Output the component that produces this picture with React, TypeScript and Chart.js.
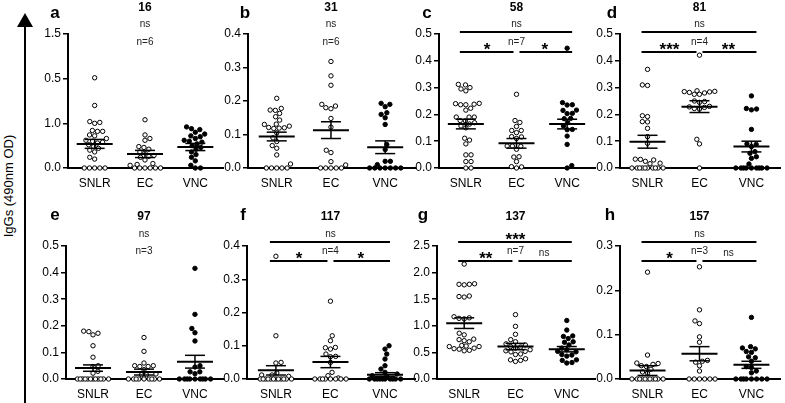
import React, { useEffect, useRef } from "react";
import { Chart, registerables } from "chart.js";
Chart.register(...registerables);

// ---------------- DATA ----------------
const categories = ["SNLR", "EC", "VNC"];
const panelLetters = ["a", "b", "c", "d", "e", "f", "g", "h"];
const panelTitles = ["16", "31", "58", "81", "97", "117", "137", "157"];
const yMaxes = [1.5, 0.4, 0.5, 0.5, 0.5, 0.4, 2.5, 0.3];
const yStepSizes = [0.5, 0.1, 0.1, 0.1, 0.1, 0.1, 0.5, 0.1];
const aTickLabels = ["0.0", "1.0", "0.5", "1.5"];
const nLabels = ["n=6", "n=6", "n=7", "n=4", "n=3", "n=4", "n=7", "n=3"];
const sigOverall = ["ns", "ns", "ns", "ns", "ns", "ns", "***", "ns"];
const sigSNLRvsEC = ["", "", "*", "***", "", "*", "**", "*"];
const sigECvsVNC = ["", "", "*", "**", "", "*", "ns", "ns"];

const a_SNLR = [1.01, 0.7, 0.52, 0.51, 0.5, 0.42, 0.41, 0.41, 0.37, 0.36, 0.33, 0.31, 0.3, 0.29, 0.28, 0.26, 0.24, 0.22, 0.2, 0.18, 0.12, 0.1, 0, 0, 0, 0, 0];
const a_EC = [0.54, 0.37, 0.33, 0.31, 0.24, 0.23, 0.21, 0.18, 0.17, 0.14, 0.13, 0.12, 0.09, 0.05, 0.04, 0.03, 0, 0, 0, 0, 0, 0];
const a_VNC = [0.46, 0.44, 0.43, 0.4, 0.38, 0.36, 0.35, 0.33, 0.31, 0.3, 0.29, 0.27, 0.25, 0.23, 0.21, 0.18, 0.15, 0.12, 0.08, 0.03, 0, 0];
const a_mean = [0.27, 0.157, 0.235];
const a_sem = [0.05, 0.04, 0.04];

const b_SNLR = [0.208, 0.178, 0.173, 0.172, 0.163, 0.153, 0.143, 0.131, 0.13, 0.125, 0.121, 0.12, 0.119, 0.118, 0.105, 0.09, 0.079, 0.067, 0.059, 0.039, 0.012, 0, 0, 0, 0, 0];
const b_EC = [0.318, 0.275, 0.247, 0.19, 0.185, 0.18, 0.177, 0.148, 0.122, 0.053, 0.046, 0.019, 0.009, 0, 0, 0, 0, 0];
const b_VNC = [0.193, 0.19, 0.183, 0.165, 0.16, 0.15, 0.13, 0.07, 0.055, 0.02, 0.02, 0.01, 0, 0, 0, 0, 0, 0, 0];
const b_mean = [0.094, 0.113, 0.062];
const b_sem = [0.013, 0.025, 0.019];

const c_SNLR = [0.312, 0.31, 0.3, 0.295, 0.288, 0.241, 0.24, 0.238, 0.236, 0.236, 0.223, 0.216, 0.19, 0.19, 0.19, 0.177, 0.176, 0.169, 0.164, 0.157, 0.15, 0.111, 0.104, 0.09, 0.049, 0.049, 0.024, 0.024, 0, 0];
const c_EC = [0.275, 0.177, 0.17, 0.155, 0.14, 0.14, 0.132, 0.117, 0.116, 0.11, 0.082, 0.082, 0.081, 0.07, 0.042, 0.041, 0.024, 0.005, 0.004, 0];
const c_VNC = [0.447, 0.244, 0.236, 0.235, 0.216, 0.215, 0.204, 0.203, 0.185, 0.184, 0.169, 0.157, 0.144, 0.143, 0.119, 0.088, 0.009, 0];
const c_mean = [0.164, 0.092, 0.164];
const c_sem = [0.018, 0.018, 0.018];

const d_SNLR = [0.368, 0.31, 0.308, 0.195, 0.192, 0.173, 0.172, 0.148, 0.117, 0.092, 0.033, 0.032, 0.03, 0.025, 0.018, 0.016, 0, 0, 0, 0, 0, 0, 0, 0, 0, 0];
const d_EC = [0.421, 0.288, 0.286, 0.285, 0.284, 0.282, 0.28, 0.275, 0.275, 0.25, 0.248, 0.245, 0.23, 0.228, 0.226, 0.222, 0.22, 0.107, 0.09, 0];
const d_VNC = [0.269, 0.222, 0.22, 0.217, 0.144, 0.09, 0.088, 0.08, 0.061, 0.055, 0.042, 0.036, 0.015, 0, 0, 0, 0, 0, 0, 0, 0, 0];
const d_mean = [0.098, 0.229, 0.08];
const d_sem = [0.024, 0.022, 0.02];

const e_SNLR = [0.18, 0.178, 0.172, 0.166, 0.125, 0.082, 0.05, 0.047, 0.029, 0.022, 0, 0, 0, 0, 0, 0, 0, 0, 0, 0, 0, 0];
const e_EC = [0.156, 0.104, 0.06, 0.05, 0.05, 0.047, 0.047, 0.035, 0.019, 0.016, 0.016, 0, 0, 0, 0, 0, 0, 0, 0, 0];
const e_VNC = [0.416, 0.243, 0.19, 0.174, 0.143, 0.05, 0.045, 0.027, 0.027, 0.02, 0, 0, 0, 0, 0, 0, 0, 0, 0];
const e_mean = [0.041, 0.026, 0.065];
const e_sem = [0.012, 0.011, 0.024];

const f_SNLR = [0.369, 0.13, 0.05, 0.048, 0.018, 0.012, 0.012, 0.008, 0, 0, 0, 0, 0, 0, 0, 0, 0, 0, 0, 0];
const f_EC = [0.234, 0.13, 0.115, 0.095, 0.094, 0.09, 0.075, 0.068, 0.067, 0.05, 0.02, 0.01, 0.003, 0, 0, 0, 0, 0, 0, 0, 0];
const f_VNC = [0.1, 0.09, 0.075, 0.06, 0.04, 0.03, 0.02, 0.015, 0.01, 0.005, 0, 0, 0, 0, 0, 0, 0, 0, 0, 0];
const f_mean = [0.026, 0.051, 0.013];
const f_sem = [0.014, 0.017, 0.006];

const g_SNLR = [2.16, 1.79, 1.78, 1.78, 1.77, 1.56, 1.55, 1.54, 1.17, 1.15, 1.14, 1.13, 0.86, 0.83, 0.75, 0.74, 0.72, 0.7, 0.63, 0.62, 0.61, 0.61, 0.58, 0.57, 0.56, 0.54, 0.53];
const g_EC = [1.21, 0.99, 0.84, 0.74, 0.7, 0.66, 0.64, 0.61, 0.6, 0.58, 0.55, 0.53, 0.52, 0.51, 0.47, 0.46, 0.38, 0.36, 0.35, 0.33];
const g_VNC = [1.1, 0.92, 0.81, 0.8, 0.76, 0.7, 0.69, 0.64, 0.58, 0.55, 0.52, 0.51, 0.46, 0.45, 0.43, 0.36, 0.35, 0.31, 0.3];
const g_mean = [1.05, 0.61, 0.56];
const g_sem = [0.1, 0.06, 0.05];

const h_SNLR = [0.241, 0.054, 0.036, 0.035, 0.033, 0.03, 0.028, 0.022, 0.016, 0.013, 0, 0, 0, 0, 0, 0, 0, 0, 0, 0, 0];
const h_EC = [0.253, 0.156, 0.131, 0.125, 0.095, 0.083, 0.042, 0.04, 0.038, 0.03, 0.018, 0, 0, 0, 0, 0, 0];
const h_VNC = [0.139, 0.073, 0.07, 0.068, 0.062, 0.06, 0.05, 0.048, 0.04, 0.028, 0.026, 0.018, 0.014, 0, 0, 0, 0, 0, 0, 0, 0];
const h_mean = [0.019, 0.057, 0.032];
const h_sem = [0.011, 0.016, 0.008];

const panelValues = [
  [a_SNLR, a_EC, a_VNC], [b_SNLR, b_EC, b_VNC], [c_SNLR, c_EC, c_VNC], [d_SNLR, d_EC, d_VNC],
  [e_SNLR, e_EC, e_VNC], [f_SNLR, f_EC, f_VNC], [g_SNLR, g_EC, g_VNC], [h_SNLR, h_EC, h_VNC],
];
const panelMeans = [a_mean, b_mean, c_mean, d_mean, e_mean, f_mean, g_mean, h_mean];
const panelSems = [a_sem, b_sem, c_sem, d_sem, e_sem, f_sem, g_sem, h_sem];

// ---------------- LAYOUT ----------------
const FONT = '"Liberation Sans", Arial, sans-serif';
const CA_LEFT = [68, 248, 439, 620, 66, 247, 437, 620];
const CA_RIGHT = [226, 418, 598, 783, 226, 418, 598, 783];
const ROW_TOP = [34, 246];
const ROW_BOTTOM = [168, 379];
const PAD_TOP = [34, 44];
const Y_AXIS_W = 45;
const X_AXIS_H = 24;
const PAD_RIGHT = 2;
const X_MIN = 0.47;
const X_MAX = 3.55;
const LETTER_DX = [-13, -3, -12, -8, -11, -4, -14, -10];
const SWARM_HALF = 17;

function swarmOffsets(values: number[], pxPerY: number, d: number, maxHalf: number): number[] {
  const idx = values.map((_, i) => i).sort((i, j) => values[i] - values[j]);
  const placed: { x: number; y: number }[] = [];
  const out = new Array(values.length).fill(0);
  let flip = 1;
  for (const i of idx) {
    const y = values[i] * pxPerY;
    const intervals: [number, number][] = [];
    for (const p of placed) {
      const dy = Math.abs(p.y - y);
      if (dy < d) {
        const w = Math.sqrt(d * d - dy * dy);
        intervals.push([p.x - w, p.x + w]);
      }
    }
    const cands = [0];
    for (const [lo, hi] of intervals) cands.push(lo, hi);
    cands.sort((a, b) => Math.abs(a) - Math.abs(b) || (a - b) * flip);
    let chosen = NaN;
    for (const c of cands) {
      if (Math.abs(c) > maxHalf) break;
      if (intervals.every(([lo, hi]) => c <= lo + 1e-6 || c >= hi - 1e-6)) {
        chosen = c;
        break;
      }
    }
    if (isNaN(chosen)) {
      // no free slot within the allowed width: choose the least crowded position
      let best = 0;
      let bestD = -1;
      for (let s = -maxHalf; s <= maxHalf; s += 0.5) {
        let md = Infinity;
        for (const p of placed) {
          const dd = Math.hypot(p.x - s, p.y - y);
          if (dd < md) md = dd;
        }
        if (md > bestD + 1e-6 || (Math.abs(md - bestD) < 1e-6 && Math.abs(s) < Math.abs(best))) {
          bestD = md;
          best = s;
        }
      }
      chosen = best;
    }
    flip = -flip;
    placed.push({ x: chosen, y });
    out[i] = chosen;
  }
  return out;
}

function makeAnnotPlugin(idx: number) {
  const row = idx < 4 ? 0 : 1;
  return {
    id: "annot" + idx,
    afterDatasetsDraw(chart: any) {
      const ctx = chart.ctx as CanvasRenderingContext2D;
      const xs = chart.scales.x;
      const ys = chart.scales.y;
      const ca = chart.chartArea;
      const line = (x1: number, y1: number, x2: number, y2: number) => {
        ctx.beginPath();
        ctx.moveTo(x1, y1);
        ctx.lineTo(x2, y2);
        ctx.stroke();
      };
      ctx.save();
      ctx.strokeStyle = "#000";
      ctx.fillStyle = "#000";
      const means = panelMeans[idx];
      const sems = panelSems[idx];
      for (let g = 0; g < 3; g++) {
        const cx = xs.getPixelForValue(g + 1);
        const my = ys.getPixelForValue(means[g]);
        const hy = ys.getPixelForValue(means[g] + sems[g]);
        const ly = ys.getPixelForValue(Math.max(0, means[g] - sems[g]));
        ctx.lineWidth = 2;
        line(cx - 18, my, cx + 18, my);
        ctx.lineWidth = 1.5;
        line(cx - 10, hy, cx + 10, hy);
        line(cx - 10, ly, cx + 10, ly);
        line(cx, hy, cx, ly);
      }
      const x1 = xs.getPixelForValue(1);
      const x2 = xs.getPixelForValue(2);
      const x3 = xs.getPixelForValue(3);
      ctx.textAlign = "center";
      ctx.textBaseline = "middle";
      ctx.font = `bold 17px ${FONT}`;
      ctx.fillText(panelLetters[idx], ca.left + LETTER_DX[idx], ca.top + (row === 0 ? -21 : -31));
      ctx.font = `bold 12px ${FONT}`;
      ctx.fillText(panelTitles[idx], x2, ca.top + (row === 0 ? -26 : -29));

      const topY = ca.top + (row === 0 ? -2 : -4);
      const subY = ca.top + (row === 0 ? 18 : 15);
      const drawLabel = (txt: string, x: number, lineY: number) => {
        if (!txt) return;
        if (txt.includes("*")) {
          ctx.font = `bold 17px ${FONT}`;
          ctx.textBaseline = "alphabetic";
          ctx.fillStyle = "#000";
          ctx.fillText(txt, x, lineY + 3);
        } else {
          ctx.font = `10px ${FONT}`;
          ctx.textBaseline = "middle";
          ctx.fillStyle = "#222";
          ctx.fillText(txt, x, lineY - 8);
          ctx.fillStyle = "#000";
        }
      };
      const hasBrackets = sigSNLRvsEC[idx] !== "";
      if (hasBrackets) {
        ctx.lineWidth = 2;
        line(x1 - 6, topY, x3 + 5, topY);
        line(x1 - 6, subY, x2 - 3, subY);
        line(x2 + 3, subY, x3 + 5, subY);
        drawLabel(sigOverall[idx], (x1 + x3) / 2, topY);
        drawLabel(sigSNLRvsEC[idx], (x1 + x2) / 2 - 4, subY);
        drawLabel(sigECvsVNC[idx], (x2 + x3) / 2 + 3, subY);
      } else {
        drawLabel(sigOverall[idx], x2, topY);
      }
      ctx.font = `10px ${FONT}`;
      ctx.textBaseline = "middle";
      ctx.fillStyle = "#222";
      ctx.fillText(nLabels[idx], x2, subY - 10);
      ctx.restore();
    },
  };
}

function Panel({ idx }: { idx: number }) {
  const ref = useRef<HTMLCanvasElement | null>(null);
  const row = idx < 4 ? 0 : 1;
  const caL = CA_LEFT[idx];
  const caR = CA_RIGHT[idx];
  const caT = ROW_TOP[row];
  const caB = ROW_BOTTOM[row];
  const padTop = PAD_TOP[row];
  const left = caL - Y_AXIS_W;
  const top = caT - padTop;
  const width = caR + PAD_RIGHT - left;
  const height = caB + X_AXIS_H - top;

  useEffect(() => {
    if (!ref.current) return;
    const yMax = yMaxes[idx];
    const step = yStepSizes[idx];
    const pxPerY = (caB - caT) / yMax;
    const pxPerX = (caR - caL) / (X_MAX - X_MIN);
    const datasets = panelValues[idx].map((vals, gi) => {
      const offs = swarmOffsets(vals, pxPerY, 5.3, SWARM_HALF);
      return {
        label: categories[gi],
        data: vals.map((v, k) => ({ x: gi + 1 + offs[k] / pxPerX, y: v })),
        pointRadius: 2.2,
        pointBorderWidth: 1,
        borderColor: "#000",
        backgroundColor: gi === 2 ? "#000" : "#fff",
        pointBackgroundColor: gi === 2 ? "#000" : "#fff",
        pointBorderColor: "#000",
        clip: false as any,
      };
    });
    const nTicks = Math.round(yMax / step);
    const chart = new Chart(ref.current, {
      type: "scatter",
      data: { datasets },
      options: {
        responsive: false,
        animation: false,
        events: [],
        layout: { padding: { left: 0, right: PAD_RIGHT, top: padTop, bottom: 0 } },
        plugins: { legend: { display: false }, tooltip: { enabled: false } },
        scales: {
          x: {
            type: "linear",
            min: X_MIN,
            max: X_MAX,
            afterBuildTicks: (s: any) => {
              s.ticks = [1, 2, 3].map((v) => ({ value: v }));
            },
            ticks: {
              callback: (v: any) => categories[Math.round(Number(v)) - 1] ?? "",
              color: "#000",
              font: { family: FONT, size: 12 },
              padding: 8,
              autoSkip: false,
              maxRotation: 0,
            },
            grid: { display: false, drawTicks: false },
            border: { display: true, color: "#000", width: 2 },
            afterFit: (s: any) => {
              s.height = X_AXIS_H;
            },
          },
          y: {
            type: "linear",
            min: 0,
            max: yMax,
            afterBuildTicks: (s: any) => {
              const t = [];
              for (let k = 0; k <= nTicks; k++) t.push({ value: +(k * step).toFixed(4) });
              s.ticks = t;
            },
            ticks: {
              callback: (v: any, i: number) => (idx === 0 ? aTickLabels[i] : Number(v).toFixed(1)),
              color: "#000",
              font: { family: FONT, size: 12 },
              padding: 2,
            },
            grid: { drawOnChartArea: false, drawTicks: true, tickLength: 5, color: "#000", lineWidth: 1.5 },
            border: { display: true, color: "#000", width: 2 },
            afterFit: (s: any) => {
              s.width = Y_AXIS_W;
            },
          },
        },
      } as any,
      plugins: [makeAnnotPlugin(idx)],
    });
    return () => chart.destroy();
  }, []);

  return (
    <canvas
      ref={ref}
      width={width}
      height={height}
      style={{ position: "absolute", left, top, width, height }}
    />
  );
}

export default function App() {
  return (
    <div
      style={{
        position: "fixed",
        left: 0,
        top: 0,
        width: 785,
        height: 403,
        background: "#fff",
        overflow: "hidden",
        fontFamily: FONT,
      }}
    >
      <div style={{ position: "absolute", left: 24, top: 25, width: 2, height: 378, background: "#000" }} />
      <div
        style={{
          position: "absolute",
          left: 17,
          top: 13,
          width: 0,
          height: 0,
          borderLeft: "8px solid transparent",
          borderRight: "8px solid transparent",
          borderBottom: "14px solid #000",
        }}
      />
      <div
        style={{
          position: "absolute",
          left: 8,
          top: 186,
          transform: "translate(-50%, -50%) rotate(-90deg)",
          whiteSpace: "nowrap",
          fontSize: 13,
          color: "#000",
        }}
      >
        IgGs (490nm OD)
      </div>
      {panelLetters.map((_, i) => (
        <Panel key={i} idx={i} />
      ))}
    </div>
  );
}
